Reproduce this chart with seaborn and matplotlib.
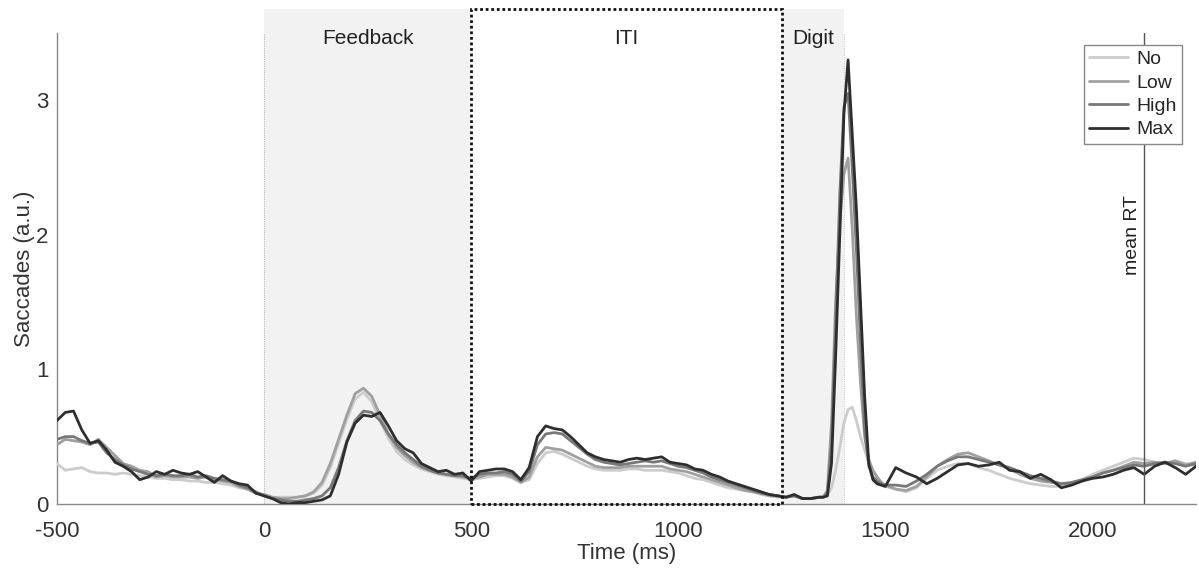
import numpy as np
import pandas as pd
import matplotlib
matplotlib.use("Agg")
import matplotlib.pyplot as plt
from matplotlib.patches import Rectangle
import seaborn as sns

# Sample times (ms): 20 ms steps, 10 ms around the digit response, 25 ms afterwards
time_ms = np.concatenate([
    np.arange(-500, 1341, 20),
    np.arange(1350, 1491, 10),
    np.arange(1500, 2251, 25),
])

# Saccade rate (a.u.) per reward condition
sacc_no = [
    0.30, 0.25, 0.26, 0.27, 0.24, 0.23, 0.23, 0.22, 0.23, 0.22, 0.21, 0.20, 0.19,
    0.19, 0.18, 0.18, 0.17, 0.17, 0.16, 0.16, 0.15, 0.14, 0.12, 0.11, 0.08, 0.07,
    0.05, 0.05, 0.05, 0.05, 0.06, 0.08, 0.14, 0.27, 0.45, 0.63, 0.78, 0.83, 0.76,
    0.62, 0.49, 0.39, 0.33, 0.29, 0.26, 0.24, 0.22, 0.21, 0.20, 0.19, 0.18,
    0.19, 0.20, 0.21, 0.21, 0.19, 0.16, 0.18, 0.30, 0.38, 0.39, 0.37, 0.34, 0.31,
    0.28, 0.26, 0.25, 0.25, 0.25, 0.26, 0.26, 0.25, 0.25, 0.25, 0.24, 0.23, 0.21,
    0.19, 0.18, 0.16, 0.14, 0.12, 0.11, 0.10, 0.09, 0.07, 0.06, 0.05, 0.05, 0.06,
    0.04, 0.04, 0.05,
    0.05, 0.06, 0.12, 0.25, 0.42, 0.60, 0.70, 0.72, 0.62, 0.50, 0.40, 0.31, 0.25,
    0.20, 0.16,
    0.13, 0.11, 0.09, 0.12, 0.19, 0.25, 0.28, 0.30, 0.30, 0.27, 0.25, 0.22, 0.19,
    0.17, 0.15, 0.14, 0.13, 0.13, 0.15, 0.18, 0.22, 0.25, 0.28, 0.31, 0.34, 0.33,
    0.31, 0.30, 0.32, 0.30, 0.29,
]
sacc_low = [
    0.44, 0.48, 0.47, 0.46, 0.44, 0.48, 0.42, 0.36, 0.30, 0.28, 0.25, 0.24, 0.20,
    0.21, 0.20, 0.20, 0.20, 0.19, 0.20, 0.18, 0.17, 0.16, 0.13, 0.11, 0.08, 0.07,
    0.05, 0.04, 0.04, 0.05, 0.06, 0.09, 0.16, 0.30, 0.48, 0.66, 0.82, 0.86, 0.80,
    0.66, 0.52, 0.42, 0.36, 0.31, 0.27, 0.25, 0.23, 0.22, 0.21, 0.20, 0.19,
    0.20, 0.22, 0.22, 0.22, 0.20, 0.16, 0.20, 0.35, 0.42, 0.41, 0.40, 0.37, 0.34,
    0.31, 0.28, 0.27, 0.27, 0.27, 0.28, 0.28, 0.28, 0.28, 0.28, 0.26, 0.25, 0.24,
    0.22, 0.20, 0.18, 0.16, 0.14, 0.12, 0.10, 0.09, 0.08, 0.06, 0.06, 0.05, 0.06,
    0.04, 0.04, 0.05,
    0.05, 0.10, 0.60, 1.50, 2.10, 2.45, 2.57, 2.05, 1.40, 0.90, 0.50, 0.33, 0.25,
    0.20, 0.16,
    0.14, 0.11, 0.10, 0.13, 0.20, 0.28, 0.33, 0.37, 0.38, 0.35, 0.32, 0.29, 0.26,
    0.22, 0.19, 0.17, 0.16, 0.15, 0.15, 0.17, 0.20, 0.23, 0.25, 0.28, 0.31, 0.30,
    0.31, 0.30, 0.32, 0.29, 0.31,
]
sacc_high = [
    0.48, 0.50, 0.50, 0.47, 0.45, 0.46, 0.38, 0.33, 0.29, 0.26, 0.24, 0.22, 0.21,
    0.22, 0.21, 0.21, 0.22, 0.20, 0.21, 0.19, 0.18, 0.17, 0.14, 0.12, 0.09, 0.06,
    0.04, 0.03, 0.02, 0.02, 0.03, 0.04, 0.06, 0.12, 0.27, 0.47, 0.62, 0.69, 0.68,
    0.62, 0.52, 0.44, 0.38, 0.33, 0.28, 0.25, 0.23, 0.22, 0.21, 0.21, 0.19,
    0.22, 0.23, 0.23, 0.24, 0.22, 0.17, 0.24, 0.44, 0.52, 0.53, 0.52, 0.47, 0.42,
    0.37, 0.33, 0.31, 0.30, 0.29, 0.30, 0.31, 0.32, 0.31, 0.32, 0.30, 0.28, 0.27,
    0.25, 0.23, 0.20, 0.18, 0.16, 0.14, 0.12, 0.10, 0.08, 0.07, 0.06, 0.05, 0.06,
    0.04, 0.04, 0.05,
    0.05, 0.08, 0.45, 1.35, 2.30, 2.95, 3.05, 2.50, 1.90, 1.20, 0.55, 0.28, 0.20,
    0.17, 0.15,
    0.14, 0.14, 0.13, 0.17, 0.22, 0.28, 0.32, 0.35, 0.35, 0.33, 0.31, 0.29, 0.27,
    0.24, 0.21, 0.19, 0.17, 0.15, 0.16, 0.18, 0.20, 0.23, 0.25, 0.27, 0.29, 0.28,
    0.30, 0.31, 0.30, 0.28, 0.30,
]
sacc_max = [
    0.62, 0.68, 0.69, 0.55, 0.45, 0.47, 0.40, 0.31, 0.28, 0.24, 0.18, 0.20, 0.24,
    0.22, 0.25, 0.23, 0.22, 0.24, 0.20, 0.16, 0.21, 0.17, 0.15, 0.14, 0.08, 0.06,
    0.04, 0.01, 0.00, 0.01, 0.01, 0.02, 0.03, 0.06, 0.22, 0.46, 0.60, 0.66, 0.65,
    0.68, 0.58, 0.47, 0.41, 0.38, 0.30, 0.27, 0.24, 0.25, 0.22, 0.23, 0.17,
    0.24, 0.25, 0.26, 0.26, 0.24, 0.18, 0.27, 0.50, 0.58, 0.56, 0.55, 0.50, 0.44,
    0.38, 0.35, 0.33, 0.32, 0.31, 0.33, 0.34, 0.33, 0.34, 0.35, 0.31, 0.30, 0.29,
    0.26, 0.25, 0.22, 0.20, 0.17, 0.15, 0.13, 0.11, 0.09, 0.07, 0.06, 0.05, 0.07,
    0.04, 0.04, 0.05,
    0.05, 0.06, 0.30, 1.10, 2.00, 2.90, 3.30, 2.75, 2.20, 1.50, 0.80, 0.30, 0.18,
    0.15, 0.14,
    0.13, 0.27, 0.23, 0.20, 0.15, 0.19, 0.24, 0.29, 0.30, 0.28, 0.29, 0.31, 0.25,
    0.24, 0.19, 0.22, 0.18, 0.12, 0.14, 0.17, 0.19, 0.20, 0.22, 0.25, 0.27, 0.22,
    0.28, 0.31, 0.27, 0.22, 0.28,
]

conditions = ["No", "Low", "High", "Max"]
condition_colors = ["#cccccc", "#a0a0a0", "#787878", "#2e2e2e"]

# Trial epochs (ms) and reference time
epochs = [("Feedback", 0, 500), ("ITI", 500, 1250), ("Digit", 1250, 1400)]
mean_rt = 2125

df = pd.concat(
    [pd.DataFrame({"time": time_ms, "saccades": vals, "condition": name})
     for name, vals in zip(conditions, [sacc_no, sacc_low, sacc_high, sacc_max])],
    ignore_index=True,
)

sns.set_style("white")
plt.rcParams["font.family"] = ["Liberation Sans", "DejaVu Sans"]
plt.rcParams["axes.unicode_minus"] = False

fig = plt.figure(figsize=(11.99, 5.72), dpi=100)
ax = fig.add_axes([0.0475, 0.119, 0.950, 0.8234])

ymax = 3.5
band_top = 3.68 / ymax

# shaded epochs (feedback and digit) and the dotted ITI box
ax.axvspan(0, 500, ymin=0, ymax=band_top, color="#f2f2f2", lw=0, clip_on=False, zorder=0)
ax.axvspan(1250, 1400, ymin=0, ymax=band_top, color="#f2f2f2", lw=0, clip_on=False, zorder=0)
ax.add_patch(Rectangle((500, 0), 750, 3.68, fill=False, edgecolor="#111111",
                       lw=2.0, linestyle=(0, (1, 1)), clip_on=False, zorder=4))
ax.axvline(0, color="#bbbbbb", lw=0.8, ls=(0, (1, 1)), zorder=1)
ax.axvline(1400, color="#cccccc", lw=0.8, ls=(0, (1, 1)), zorder=1)

for label, start, end in epochs:
    ax.text((start + end) / 2, 3.46, label, ha="center", va="center", fontsize=15,
            color="#222222", zorder=5)

sns.lineplot(data=df, x="time", y="saccades", hue="condition", hue_order=conditions,
             palette=condition_colors, lw=2.0, ax=ax, zorder=3, estimator=None)

ax.axvline(mean_rt, color="#555555", lw=1.0, zorder=3)
ax.annotate("mean RT", xy=(mean_rt, 1.7), xytext=(-2, 0), textcoords="offset points",
            rotation=90, ha="right", va="bottom", fontsize=14, color="#222222")

ax.set_xlim(-500, 2250)
ax.set_ylim(0, ymax)
ax.set_xticks([-500, 0, 500, 1000, 1500, 2000])
ax.set_yticks([0, 1, 2, 3])
ax.set_xlabel("Time (ms)", fontsize=16, color="#333333", labelpad=1)
ax.set_ylabel("Saccades (a.u.)", fontsize=16, color="#333333", labelpad=1)
ax.tick_params(direction="in", length=6, width=0.8, colors="#888888",
               labelcolor="#333333", labelsize=16)
ax.tick_params(axis="x", pad=12)
ax.tick_params(axis="y", pad=6)

sns.despine(ax=ax)
for side in ["left", "bottom"]:
    ax.spines[side].set_color("#888888")
    ax.spines[side].set_linewidth(1.0)

leg = ax.legend(loc="upper right", bbox_to_anchor=(0.988, 0.975), frameon=True,
                fancybox=False, framealpha=1, edgecolor="#888888", fontsize=14,
                handlelength=2.0, labelspacing=0.3, borderpad=0.3, handletextpad=0.4,
                borderaxespad=0)
leg.get_frame().set_linewidth(1.0)
leg.set_zorder(6)
for line in leg.get_lines():
    line.set_linewidth(2.0)

fig.savefig("out.png", dpi=100)
